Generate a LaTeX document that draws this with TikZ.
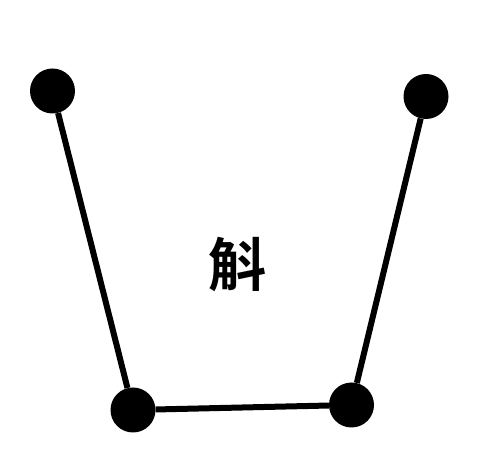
\documentclass[tikz,border=0pt]{standalone}
\usepackage{fontspec}
\newfontfamily\cjk{Noto Sans CJK SC Bold}
\begin{document}
\begin{tikzpicture}[x=1pt,y=1pt,
  dot/.style={circle,fill=black,inner sep=0pt,minimum size=45pt},
  edge/.style={line width=6pt}]
\useasboundingbox (0,0) rectangle (479,463);
\node[dot] (tl) at (52.5,372) {};
\node[dot] (tr) at (426,366.5) {};
\node[dot] (bl) at (133,53) {};
\node[dot] (br) at (351.5,58) {};
\draw[edge] (tl) -- (bl);
\draw[edge] (bl) -- (br);
\draw[edge] (br) -- (tr);
\node[font=\cjk\fontsize{58}{58}\selectfont,inner sep=0pt] (lbl) at (237.5,198) {斛};
\end{tikzpicture}
\end{document}
